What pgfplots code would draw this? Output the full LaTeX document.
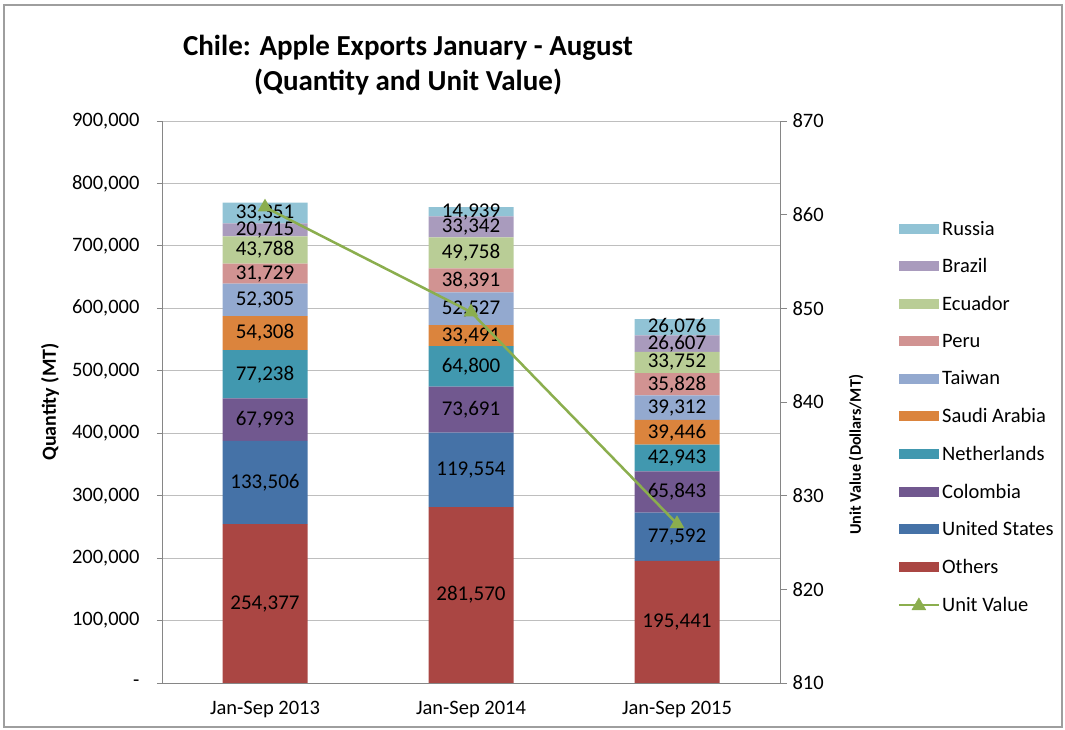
\documentclass[border=0pt]{standalone}
\usepackage{fontspec}
\setmainfont{Carlito}
\usepackage{pgfplots}
\usepackage{pgfplotstable}
\pgfplotsset{compat=1.18}
\definecolor{cOthers}{HTML}{AA4643}
\definecolor{cUS}{HTML}{4572A7}
\definecolor{cCol}{HTML}{71588F}
\definecolor{cNet}{HTML}{4198AF}
\definecolor{cSau}{HTML}{DB843D}
\definecolor{cTai}{HTML}{93A9CF}
\definecolor{cPer}{HTML}{D19392}
\definecolor{cEcu}{HTML}{B9CD96}
\definecolor{cBra}{HTML}{A99BBD}
\definecolor{cRus}{HTML}{91C3D5}
\definecolor{cLine}{HTML}{8BAE4E}
\definecolor{cAxis}{HTML}{868686}
\definecolor{cGrid}{HTML}{BEBEBE}
\pgfplotsset{
  barleg/.style={legend image code/.code={\fill[##1] (0pt,-5pt) rectangle (40pt,5pt);}},
  lineleg/.style={legend image code/.code={\draw[cLine, line width=2.5pt] (0pt,0pt) -- (40pt,0pt); \fill[cLine] (20pt,7pt) -- (13pt,-5pt) -- (27pt,-5pt) -- cycle;}},
  geom/.style={at={(162pt,47pt)}, anchor=south west, width=618pt, height=562pt, scale only axis, xmin=-0.5, xmax=2.5},
  lbl/.style={draw=none, mark=none, only marks},
}
\pgfplotstableread{
x others us colombia netherlands saudi taiwan peru ecuador brazil russia
0 254377 133506 67993 77238 54308 52305 31729 43788 20715 33351
1 281570 119554 73691 64800 33491 52527 38391 49758 33342 14939
2 195441 77592 65843 42943 39446 39312 35828 33752 26607 26076
}\qtytable
\pgfplotstableread{
x uv
0 860.8
1 849.6
2 827.0
}\uvtable
% label positions: middle of each stacked segment
\pgfplotstablecreatecol[create col/expr={\thisrow{others}/2}]{m1}{\qtytable}
\pgfplotstablecreatecol[create col/expr={\thisrow{others}+\thisrow{us}/2}]{m2}{\qtytable}
\pgfplotstablecreatecol[create col/expr={\thisrow{others}+\thisrow{us}+\thisrow{colombia}/2}]{m3}{\qtytable}
\pgfplotstablecreatecol[create col/expr={\thisrow{others}+\thisrow{us}+\thisrow{colombia}+\thisrow{netherlands}/2}]{m4}{\qtytable}
\pgfplotstablecreatecol[create col/expr={\thisrow{others}+\thisrow{us}+\thisrow{colombia}+\thisrow{netherlands}+\thisrow{saudi}/2}]{m5}{\qtytable}
\pgfplotstablecreatecol[create col/expr={\thisrow{others}+\thisrow{us}+\thisrow{colombia}+\thisrow{netherlands}+\thisrow{saudi}+\thisrow{taiwan}/2}]{m6}{\qtytable}
\pgfplotstablecreatecol[create col/expr={\thisrow{others}+\thisrow{us}+\thisrow{colombia}+\thisrow{netherlands}+\thisrow{saudi}+\thisrow{taiwan}+\thisrow{peru}/2}]{m7}{\qtytable}
\pgfplotstablecreatecol[create col/expr={\thisrow{others}+\thisrow{us}+\thisrow{colombia}+\thisrow{netherlands}+\thisrow{saudi}+\thisrow{taiwan}+\thisrow{peru}+\thisrow{ecuador}/2}]{m8}{\qtytable}
\pgfplotstablecreatecol[create col/expr={\thisrow{others}+\thisrow{us}+\thisrow{colombia}+\thisrow{netherlands}+\thisrow{saudi}+\thisrow{taiwan}+\thisrow{peru}+\thisrow{ecuador}+\thisrow{brazil}/2}]{m9}{\qtytable}
\pgfplotstablecreatecol[create col/expr={\thisrow{others}+\thisrow{us}+\thisrow{colombia}+\thisrow{netherlands}+\thisrow{saudi}+\thisrow{taiwan}+\thisrow{peru}+\thisrow{ecuador}+\thisrow{brazil}+\thisrow{russia}/2}]{m10}{\qtytable}
\begin{document}
\begin{tikzpicture}
\path[use as bounding box] (0pt,0pt) rectangle (1065pt,730pt);
\draw[cAxis!80, line width=1.5pt] (4pt,3pt) rectangle (1062pt,725pt);
\node[font=\fontsize{29}{35}\selectfont\bfseries, align=center] at (408pt,665pt) {Chile: Apple Exports January - August\\(Quantity and Unit Value)};
\begin{axis}[
  geom,
  ybar stacked, bar width=85pt,
  ymin=0, ymax=900000,
  scaled y ticks=false,
  ytick={0,100000,200000,300000,400000,500000,600000,700000,800000,900000},
  yticklabels={-,{100,000},{200,000},{300,000},{400,000},{500,000},{600,000},{700,000},{800,000},{900,000}},
  xtick={0,1,2}, xticklabels={Jan-Sep 2013, Jan-Sep 2014, Jan-Sep 2015},
  x tick style={draw=none},
  y tick style={cAxis, line width=0.8pt},
  major tick length=5pt, tick align=outside,
  axis x line*=bottom, axis y line*=left,
  axis line style={cAxis, line width=0.8pt, -},
  ymajorgrids, grid style={cGrid, line width=0.8pt},
  yticklabel style={font=\fontsize{20.5}{24}\selectfont, xshift=-14pt},
  xticklabel style={font=\fontsize{20.5}{24}\selectfont, yshift=-10pt},
  ylabel={Quantity (MT)},
  ylabel style={font=\fontsize{20}{24}\selectfont\bfseries, at={(axis description cs:-0.181,0.5)}, anchor=center},
  reverse legend,
  legend style={draw=none, fill=none, at={(1.19,0.826)}, anchor=north west, font=\fontsize{20.5}{24}\selectfont, row sep=18pt, inner sep=0pt},
  legend cell align=left,
]
\addlegendimage{lineleg}
\addlegendentry{Unit Value}
\addplot[fill=cOthers, draw=none, barleg] table[x=x, y=others]{\qtytable};
\addlegendentry{Others}
\addplot[fill=cUS, draw=none, barleg] table[x=x, y=us]{\qtytable};
\addlegendentry{United States}
\addplot[fill=cCol, draw=none, barleg] table[x=x, y=colombia]{\qtytable};
\addlegendentry{Colombia}
\addplot[fill=cNet, draw=none, barleg] table[x=x, y=netherlands]{\qtytable};
\addlegendentry{Netherlands}
\addplot[fill=cSau, draw=none, barleg] table[x=x, y=saudi]{\qtytable};
\addlegendentry{Saudi Arabia}
\addplot[fill=cTai, draw=none, barleg] table[x=x, y=taiwan]{\qtytable};
\addlegendentry{Taiwan}
\addplot[fill=cPer, draw=none, barleg] table[x=x, y=peru]{\qtytable};
\addlegendentry{Peru}
\addplot[fill=cEcu, draw=none, barleg] table[x=x, y=ecuador]{\qtytable};
\addlegendentry{Ecuador}
\addplot[fill=cBra, draw=none, barleg] table[x=x, y=brazil]{\qtytable};
\addlegendentry{Brazil}
\addplot[fill=cRus, draw=none, barleg] table[x=x, y=russia]{\qtytable};
\addlegendentry{Russia}
\end{axis}
% data labels
\begin{axis}[
  geom, ymin=0, ymax=900000, hide axis,
  point meta=explicit,
  nodes near coords={\pgfmathprintnumber[fixed,precision=0,1000 sep={,},assume math mode=true]{\pgfplotspointmeta}},
  nodes near coords align={center},
  every node near coord/.append style={font=\fontsize{21}{24}\selectfont, text=black, anchor=center, inner sep=0pt},
]
\addplot[lbl] table[x=x, y=m1, meta=others]{\qtytable};
\addplot[lbl] table[x=x, y=m2, meta=us]{\qtytable};
\addplot[lbl] table[x=x, y=m3, meta=colombia]{\qtytable};
\addplot[lbl] table[x=x, y=m4, meta=netherlands]{\qtytable};
\addplot[lbl] table[x=x, y=m5, meta=saudi]{\qtytable};
\addplot[lbl] table[x=x, y=m6, meta=taiwan]{\qtytable};
\addplot[lbl] table[x=x, y=m7, meta=peru]{\qtytable};
\addplot[lbl] table[x=x, y=m8, meta=ecuador]{\qtytable};
\addplot[lbl] table[x=x, y=m9, meta=brazil]{\qtytable};
\addplot[lbl] table[x=x, y=m10, meta=russia]{\qtytable};
\end{axis}
\begin{axis}[
  geom,
  ymin=810, ymax=870,
  ytick={810,820,830,840,850,860,870},
  axis y line*=right, axis x line=none,
  axis line style={cAxis, line width=0.8pt, -},
  y tick style={cAxis, line width=0.8pt},
  major tick length=7pt, tick align=outside,
  /pgf/number format/assume math mode=true,
  yticklabel style={font=\fontsize{20.5}{24}\selectfont, xshift=2pt},
  ylabel={Unit Value (Dollars/MT)},
  ylabel style={font=\fontsize{16.2}{20}\selectfont\bfseries, at={(axis description cs:1.123,0.406)}, anchor=center},
]
\addplot[color=cLine, line width=2.5pt, mark=triangle*, mark size=6pt] table[x=x, y=uv]{\uvtable};
\end{axis}
\end{tikzpicture}
\end{document}
